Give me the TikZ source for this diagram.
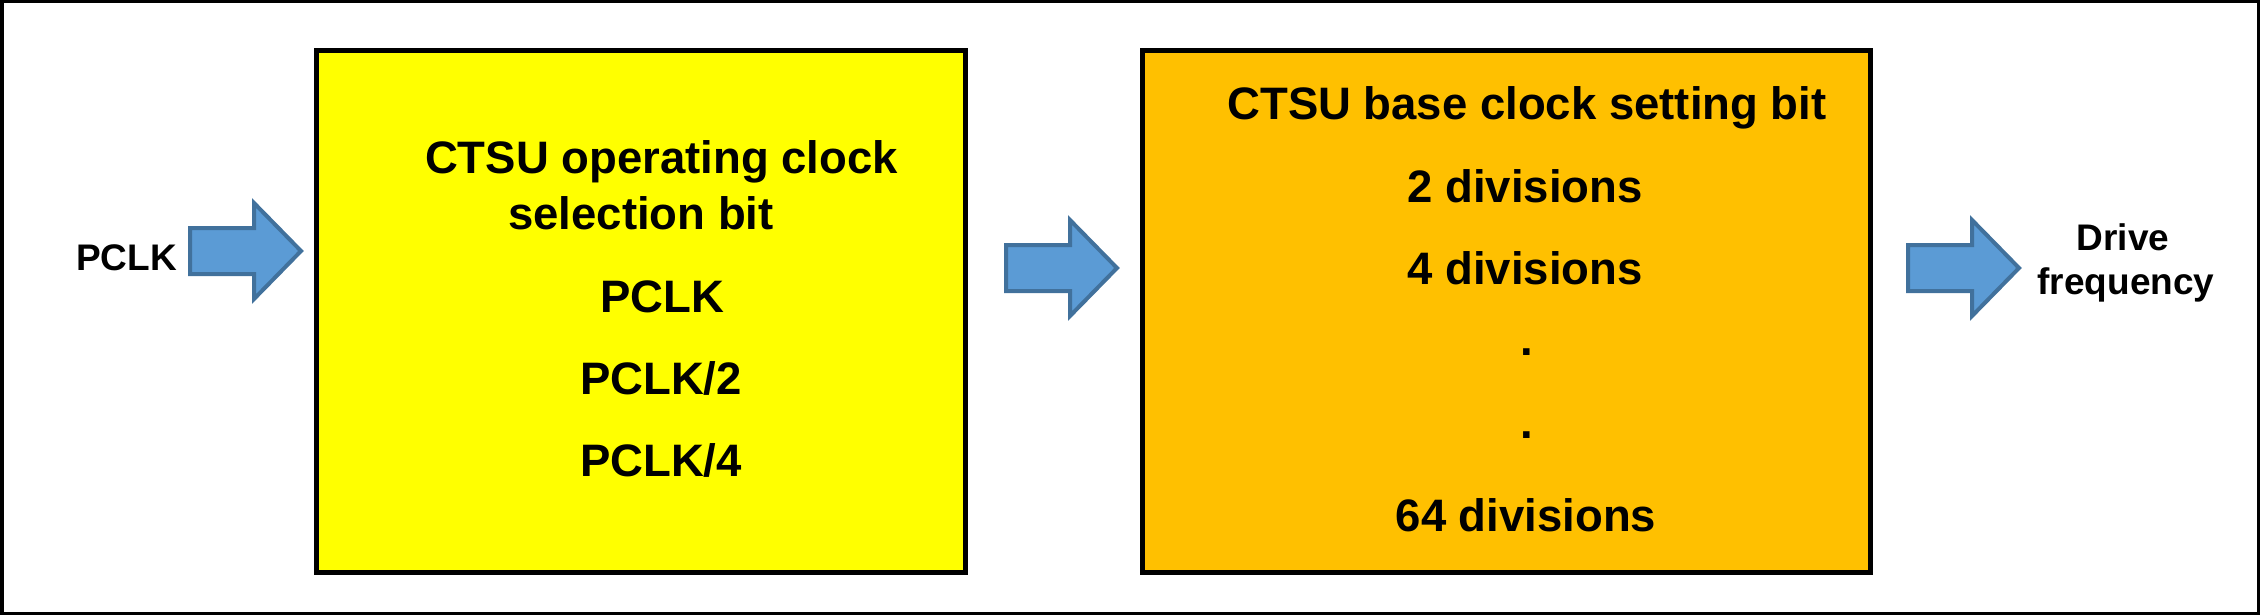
\documentclass[tikz,border=0pt]{standalone}
\usepackage{fontspec}
\setmainfont{Liberation Sans}
\definecolor{boxyellow}{HTML}{FFFF00}
\definecolor{boxorange}{HTML}{FFC000}
\definecolor{arrowfill}{HTML}{5B9BD5}
\definecolor{arrowline}{HTML}{41719C}
\tikzset{
  blockbox/.style={draw=black, line width=5pt, inner sep=0pt},
  bigtext/.style={anchor=base, inner sep=0pt, font=\fontsize{45.5}{54}\selectfont\bfseries},
  smalltext/.style={anchor=base, inner sep=0pt, font=\fontsize{37}{44}\selectfont\bfseries},
  arrowstyle/.style={draw=arrowline, fill=arrowfill, line width=4pt, line join=miter},
  fatarrow/.pic={\path[arrowstyle] (0,-23) -- (64,-23) -- (64,-48) -- (111,0) -- (64,48) -- (64,23) -- (0,23) -- cycle;}
}
\begin{document}
\begin{tikzpicture}[x=1pt, y=-1pt]
\useasboundingbox (0,0) rectangle (2260,615);
\draw[line width=3.5pt] (1.75,1.75) rectangle (2258.25,613.25);

% boxes
\node[blockbox, fill=boxyellow, minimum width=649pt, minimum height=521.5pt] (sel) at (641,311.25) {};
\node[blockbox, fill=boxorange, minimum width=727.5pt, minimum height=521.5pt] (base) at (1506.25,311.25) {};

% arrows
\coordinate (a1) at (190,251);
\coordinate (a2) at (1006,268);
\coordinate (a3) at (1908,268);
\pic at (a1) {fatarrow};
\pic at (a2) {fatarrow};
\pic at (a3) {fatarrow};

% outside labels
\node[smalltext] (pclkin) at (126.5,270) {PCLK};
\node[smalltext] (drive) at (2123,250) {Drive};
\node[smalltext] (freq) at (2126,294) {frequency};

% yellow box text
\node[bigtext] (s1) at (661.5,174) {CTSU operating clock};
\node[bigtext] (s2) at (641,229) {selection bit};
\node[bigtext] (s3) at (662,312) {PCLK};
\node[bigtext] (s4) at (661,394) {PCLK/2};
\node[bigtext] (s5) at (661,476.5) {PCLK/4};

% orange box text
\node[bigtext] (b1) at (1527,120) {CTSU base clock setting bit};
\node[bigtext] (b2) at (1525,202) {2 divisions};
\node[bigtext] (b3) at (1525,284) {4 divisions};
\node[bigtext] (b4) at (1527,355) {.};
\node[bigtext] (b5) at (1527,438) {.};
\node[bigtext] (b6) at (1526,531) {64 divisions};
\end{tikzpicture}
\end{document}
